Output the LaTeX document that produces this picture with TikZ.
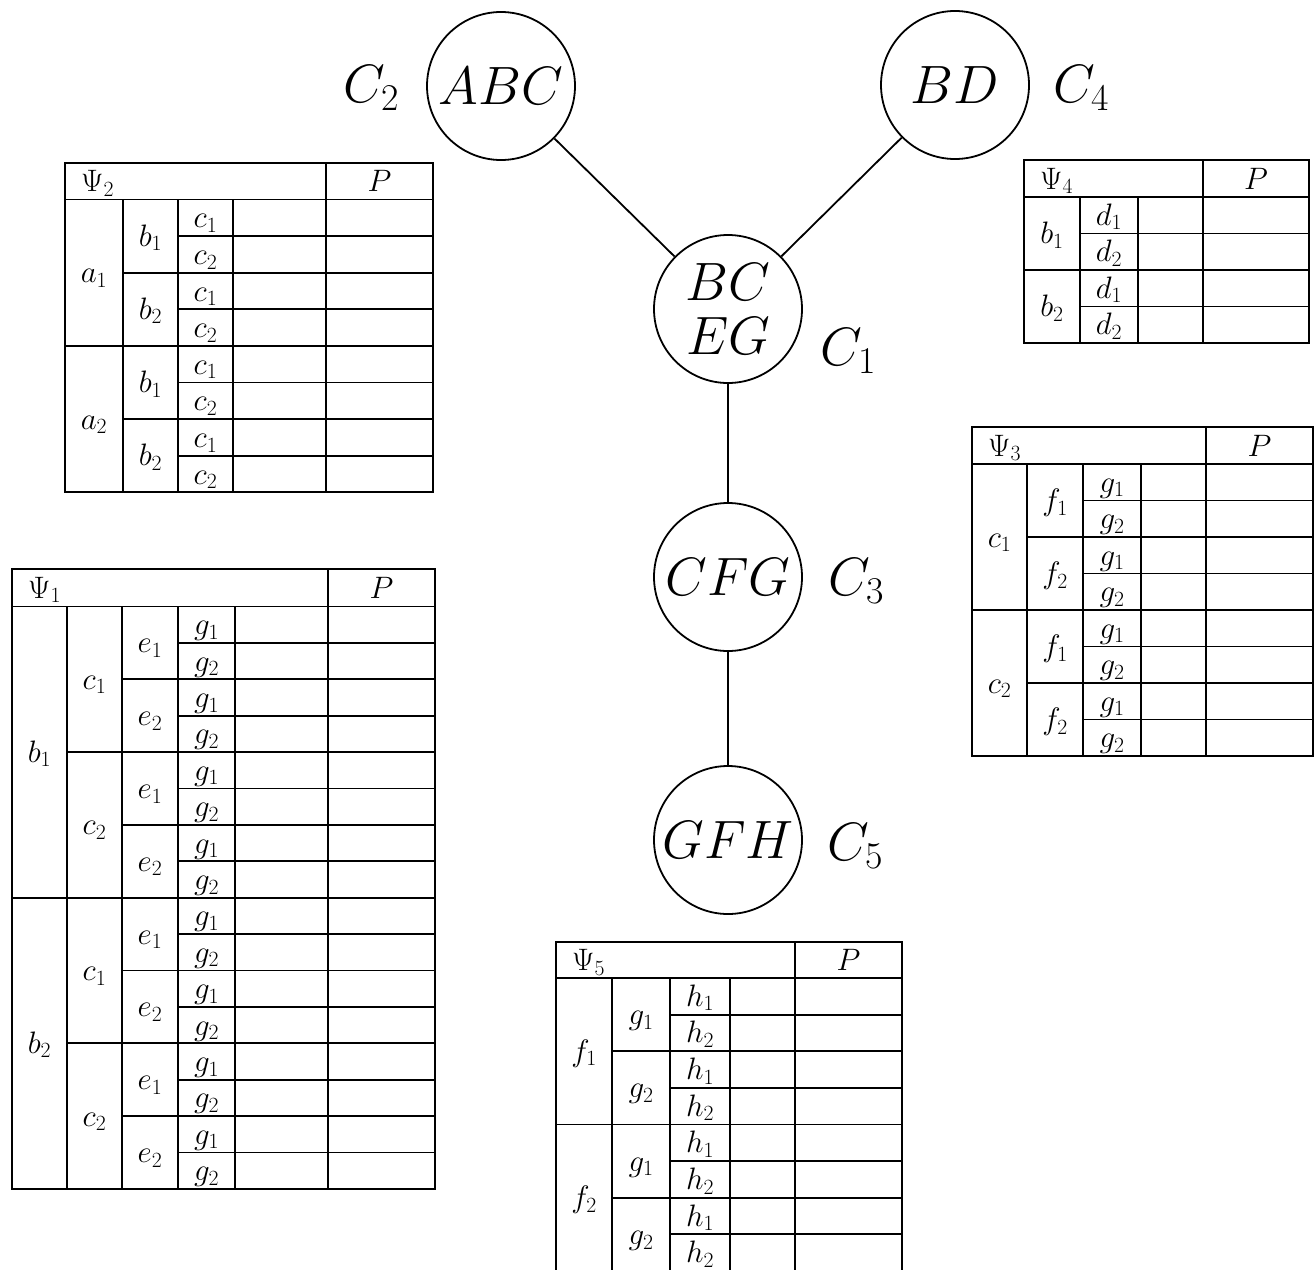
\RequirePackage{fix-cm}
\documentclass[tikz,border=0pt]{standalone}
\tikzset{
  tabline/.style={line width=1.8pt, line cap=rect},
  tabtext/.style={inner sep=0pt, font=\fontsize{31}{34}\selectfont},
  clique/.style={circle, draw, line width=1.8pt, minimum size=148pt, inner sep=0pt, align=center, font=\fontsize{54}{52}\selectfont},
  clabel/.style={inner sep=0pt, anchor=base west, font=\fontsize{54}{52}\selectfont},
  edge/.style={line width=1.8pt}
}
% #1 name, #2 psi index, #3 levels, #4 letters, #5 x array, #6 ytop, #7 yhead, #8 row height
\newcommand\psitab[8]{%
  \pgfmathtruncatemacro\tN{2^#3}%
  \pgfmathsetmacro\tXl{#5[0]}%
  \pgfmathsetmacro\tXp{#5[#3+1]}%
  \pgfmathsetmacro\tXr{#5[#3+2]}%
  \pgfmathsetmacro\tYb{#7+\tN*#8}%
  \pgfmathsetmacro\tYc{(#6+#7)/2}%
  \draw[tabline] (\tXl,#6) rectangle (\tXr,\tYb);
  \draw[tabline] (\tXl,#7) -- (\tXr,#7);
  \draw[tabline] (\tXp,#6) -- (\tXp,\tYb);
  \node[tabtext,anchor=base west] (#1-psi) at (\tXl+16,\tYc+10.5) {$\Psi_{#2}$};
  \node[tabtext,anchor=base] (#1-P) at ({(\tXp+\tXr)/2},\tYc+10.5) {$P$};
  \foreach \tLt [count=\tI from 0] in {#4}{%
    \pgfmathsetmacro\tCL{#5[\tI]}%
    \pgfmathsetmacro\tCR{#5[\tI+1]}%
    \pgfmathtruncatemacro\tSpan{2^(#3-1-\tI)}%
    \pgfmathtruncatemacro\tNb{\tN/\tSpan-1}%
    \draw[tabline] (\tCR,#7) -- (\tCR,\tYb);
    \foreach \tB in {0,...,\tNb}{%
      \pgfmathtruncatemacro\tSub{mod(\tB,2)+1}%
      \pgfmathsetmacro\tYm{#7+(\tB+0.5)*\tSpan*#8}%
      \node[tabtext,anchor=base] (#1-\tI-\tB) at ({(\tCL+\tCR)/2},\tYm+10) {$\tLt_{\tSub}$};
      \ifnum\tB>0
        \pgfmathsetmacro\tYl{#7+\tB*\tSpan*#8}%
        \draw[tabline] (\tCL,\tYl) -- (\tXr,\tYl);
      \fi
    }
  }
}
\begin{document}
\begin{tikzpicture}[x=1pt,y=-1pt]
\useasboundingbox (0,0) rectangle (1316,1269);

% cliques
\node[clique] (abc) at (501,86) {$ABC$};
\node[clique] (bd) at (955,85) {$BD$};
\node[clique] (bceg) at (728,309) {$BC$\\[2pt]$EG$};
\node[clique] (cfg) at (728,577) {$CFG$};
\node[clique] (gfh) at (728,840) {$GFH$};

\node[clabel] (c2) at (343,102) {$C_2$};
\node[clabel] (c4) at (1053,102) {$C_4$};
\node[clabel] (c1) at (820,365) {$C_1$};
\node[clabel] (c3) at (828,595) {$C_3$};
\node[clabel] (c5) at (827,860) {$C_5$};

\draw[edge] (abc) -- (bceg);
\draw[edge] (bd) -- (bceg);
\draw[edge] (bceg) -- (cfg);
\draw[edge] (cfg) -- (gfh);

% tables
\psitab{t2}{2}{3}{a,b,c}{{65,123,178,233,326,433}}{163}{199.5}{36.6}
\psitab{t4}{4}{2}{b,d}{{1024,1080,1138,1203,1309}}{160}{197}{36.5}
\psitab{t1}{1}{4}{b,c,e,g}{{12,67,122,178,235,328,435}}{569}{606.5}{36.4}
\psitab{t3}{3}{3}{c,f,g}{{972,1027,1083,1141,1206,1313}}{427}{464}{36.5}
\psitab{t5}{5}{3}{f,g,h}{{556,612,670,730,795,902}}{942}{978}{36.62}
\end{tikzpicture}
\end{document}
